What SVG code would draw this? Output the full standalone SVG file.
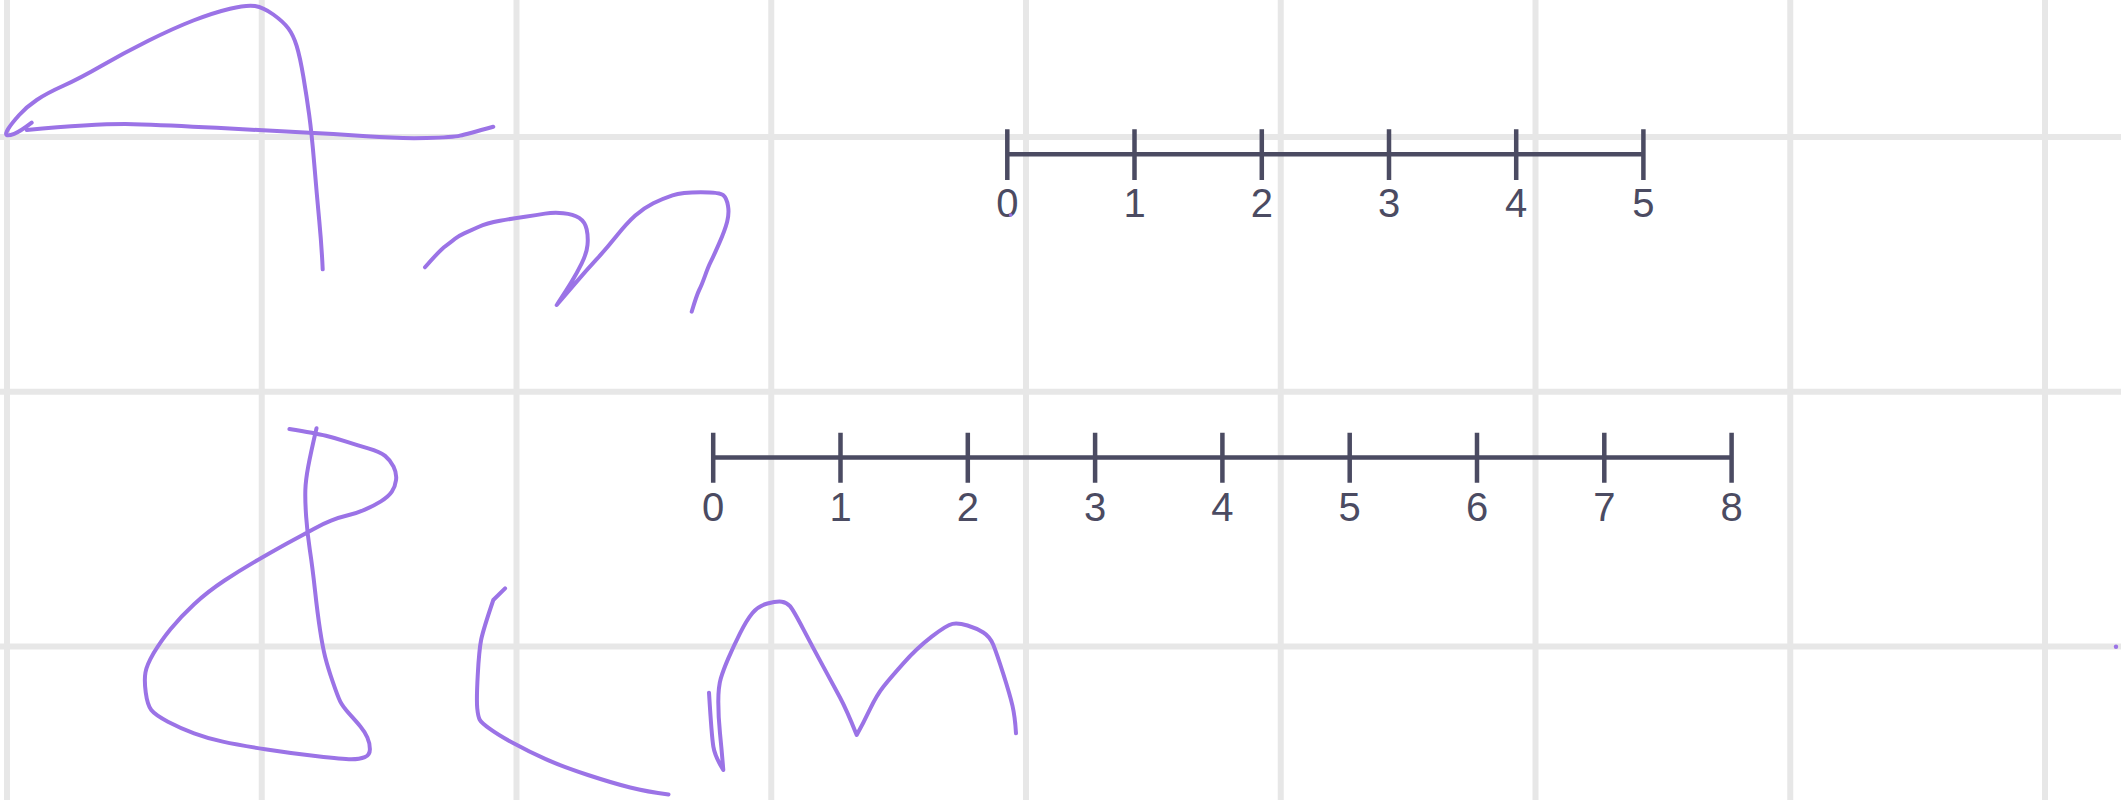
<svg xmlns="http://www.w3.org/2000/svg" width="2121" height="800" viewBox="0 0 2121 800">
<style>
.grid line{stroke:#e7e7e7;stroke-width:6}
.ink{fill:none;stroke:#9b73e6;stroke-width:4;stroke-linecap:round;stroke-linejoin:round}
.axis{stroke:#4b4b62;stroke-width:4.5;fill:none}
.lbl{font-family:"Liberation Sans",Arial,sans-serif;font-size:40px;fill:#4b4b62;text-anchor:middle}
</style>
<rect width="2121" height="800" fill="#ffffff"/>
<g id="grid" class="grid">
<line x1="7" y1="0" x2="7" y2="800"/>
<line x1="261.75" y1="0" x2="261.75" y2="800"/>
<line x1="516.5" y1="0" x2="516.5" y2="800"/>
<line x1="771.25" y1="0" x2="771.25" y2="800"/>
<line x1="1026" y1="0" x2="1026" y2="800"/>
<line x1="1280.75" y1="0" x2="1280.75" y2="800"/>
<line x1="1535.5" y1="0" x2="1535.5" y2="800"/>
<line x1="1790.25" y1="0" x2="1790.25" y2="800"/>
<line x1="2045" y1="0" x2="2045" y2="800"/>
<line x1="0" y1="137" x2="2121" y2="137"/>
<line x1="0" y1="391.75" x2="2121" y2="391.75"/>
<line x1="0" y1="646.5" x2="2121" y2="646.5"/>
</g>
<g id="numberline-top">
<path class="axis" d="M1007.3 154.2H1643.4M1007.3 129.3V180M1134.5 129.3V180M1261.8 129.3V180M1389 129.3V180M1516.2 129.3V180M1643.4 129.3V180"/>
<text class="lbl" x="1007.3" y="216.5">0</text>
<text class="lbl" x="1134.5" y="216.5">1</text>
<text class="lbl" x="1261.8" y="216.5">2</text>
<text class="lbl" x="1389" y="216.5">3</text>
<text class="lbl" x="1516.2" y="216.5">4</text>
<text class="lbl" x="1643.4" y="216.5">5</text>
</g>
<g id="numberline-bottom">
<path class="axis" d="M713.2 457.5H1731.6M713.2 432.7V482.7M840.5 432.7V482.7M967.8 432.7V482.7M1095.1 432.7V482.7M1222.4 432.7V482.7M1349.7 432.7V482.7M1477 432.7V482.7M1604.3 432.7V482.7M1731.6 432.7V482.7"/>
<text class="lbl" x="713.2" y="521">0</text>
<text class="lbl" x="840.5" y="521">1</text>
<text class="lbl" x="967.8" y="521">2</text>
<text class="lbl" x="1095.1" y="521">3</text>
<text class="lbl" x="1222.4" y="521">4</text>
<text class="lbl" x="1349.7" y="521">5</text>
<text class="lbl" x="1477" y="521">6</text>
<text class="lbl" x="1604.3" y="521">7</text>
<text class="lbl" x="1731.6" y="521">8</text>
</g>
<g id="handwriting">
<path id="four-a" class="ink" d="M31.7 122.7Q20 131.7 14.15 133.85Q8.3 136 6.65 135Q5 134 8.35 128.65Q11.7 123.3 19.2 115Q26.7 106.7 36.7 100Q46.7 93.3 63.35 85.8Q80 78.3 101.65 65.8Q123.3 53.3 148.3 40.8Q173.3 28.3 193.3 20.5Q213.3 12.7 230 8.7Q246.7 4.7 255 6Q263.3 7.3 273.3 14.5Q283.3 21.7 288.3 28.35Q293.3 35 296.65 45.85Q300 56.7 303.35 76.7Q306.7 96.7 309.2 115Q311.7 133.3 314.2 163.3Q316.7 193.3 319.2 220Q321.7 246.7 322.7 269.3"/>
<path id="four-b" class="ink" d="M26.7 130Q100 123.3 133.35 124.15Q166.7 125 216.7 127.85Q266.7 130.7 300 132.35Q333.3 134 366.65 136.35Q400 138.7 426.65 138Q453.3 137.3 460 135.65Q466.7 134 493.3 126.7"/>
<path id="m-top" class="ink" d="M425 267.3Q440 250 445.85 245.85Q451.7 241.7 455 238.85Q458.3 236 464.15 233.35Q470 230.7 478.35 227Q486.7 223.3 500 220.8Q513.3 218.3 525 216.65Q536.7 215 545 213.650Q553.3 212.3 563.3 213.15Q573.3 214 579.15 217.85Q585 221.7 586.65 229.2Q588.3 236.7 587.5 245Q586.7 253.3 581.7 263.3Q576.7 273.3 571.7 281.65Q566.7 290 556.7 305Q566.7 293.3 576.7 281.65Q586.7 270 596.7 259.15Q606.7 248.3 616.7 235.8Q626.7 223.3 635 215.8Q643.3 208.3 653.3 203.3Q663.3 198.3 672.5 195.3Q681.7 192.3 700.85 192.3Q720 192.3 723.35 195.3Q726.7 198.3 728 205.8Q729.3 213.3 727.15 221.65Q725 230 719.15 243.35Q713.3 256.7 710.8 261.7Q708.3 266.7 705 275.85Q701.7 285 699.2 290Q696.7 295 691.7 311.7"/>
<path id="ampersand" class="ink" d="M289.4 429Q315.8 433.3 325.95 435.8Q336.1 438.3 346.25 441.65Q356.4 445 368.2 448.35Q380 451.7 385.1 455.85Q390.2 460 393.55 466.65Q396.9 473.3 396.05 480Q395.2 486.7 391.85 491.7Q388.5 496.7 380.9 501.35Q373.3 506 364.85 509.65Q356.4 513.3 347.95 515.3Q339.5 517.3 331.05 520.65Q322.6 524 314.15 528.65Q305.7 533.3 293.85 539.65Q282 546 261.7 557.65Q241.4 569.3 224.5 580.5Q207.6 591.7 194.1 604.2Q180.6 616.7 170.45 629.2Q160.3 641.7 153.55 653.35Q146.8 665 145.45 672.5Q144.1 680 145.75 692.5Q147.4 705 151.3 710Q155.2 715 167.9 721.65Q180.6 728.3 194.1 733.3Q207.6 738.3 222.8 741.65Q238 745 265.05 749.15Q292.1 753.3 317.45 756.3Q342.8 759.3 351.25 759.3Q359.7 759.3 364.8 757.15Q369.9 755 369.9 749.15Q369.9 743.3 367.35 737.5Q364.8 731.7 360.6 726.7Q356.4 721.7 349.6 714.2Q342.8 706.7 340.3 701.7Q337.8 696.7 332.7 681.7Q327.6 666.7 325.1 656.7Q322.6 646.7 320.05 630Q317.5 613.3 314.95 590Q312.4 566.7 309.85 550Q307.3 533.3 306.15 516.65Q305 500 305.35 490Q305.7 480 308.2 466.65Q310.7 453.3 316.5 428.3"/>
<path id="paren" class="ink" d="M505.1 588.3L493.3 600Q483.1 630 481.1 640Q479.1 650 477.75 675Q476.4 700 477.25 708.35Q478.1 716.7 479.75 719.7Q481.4 722.7 489.9 728.85Q498.4 735 513.6 743.35Q528.8 751.7 545.7 759.2Q562.6 766.7 587.95 775Q613.3 783.3 630.2 787.5Q647.1 791.7 668.5 794.5"/>
<path id="m-bottom" class="ink" d="M709 692.7Q711.7 736.7 713.35 746.7Q715 756.7 723.3 770Q721.7 750 720 733.35Q718.3 716.7 718.3 701.7Q718.3 686.7 720.8 678.35Q723.3 670 728.3 658.35Q733.3 646.7 740 633.35Q746.7 620 752.5 613Q758.3 606 767.5 603.5Q776.7 601 781.7 601.65Q786.7 602.3 790 606.15Q793.3 610 803.3 629.15Q813.3 648.3 823.3 666.65Q833.3 685 840 697.5Q846.7 710 856.7 735Q863.3 723.3 870 709.15Q876.7 695 883.35 686.65Q890 678.3 903.35 663.3Q916.7 648.3 931.7 636.65Q946.7 625 952.5 623.85Q958.3 622.7 967.5 625.5Q976.7 628.3 983.35 632.5Q990 636.7 993.35 645Q996.7 653.3 1003.35 674.15Q1010 695 1012.5 705.85Q1015 716.7 1016 733.3"/>
<circle cx="2116" cy="646.7" r="2.2" fill="#9b73e6"/>
<circle cx="1010.7" cy="215" r="1.8" fill="#9b73e6"/>
</g>
</svg>
